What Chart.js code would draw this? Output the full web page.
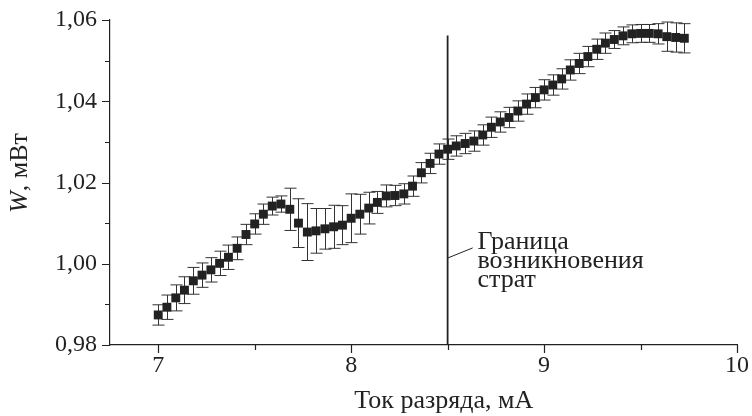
<!DOCTYPE html>
<html lang="ru">
<head>
<meta charset="UTF-8">
<title>W vs discharge current</title>
<script src="https://cdn.jsdelivr.net/npm/chart.js"></script>
<style>
    body { margin: 0; background: #fff; }
    #wrap { width: 752px; height: 416px; }
</style>
</head>
<body>
<div id="wrap"><canvas id="chart" width="752" height="416"></canvas></div>
<script>
// discharge current, mA
const current = [
    7.000, 7.045, 7.091, 7.136, 7.182, 7.227, 7.273, 7.318, 7.364, 7.409,
    7.455, 7.500, 7.545, 7.591, 7.636, 7.682, 7.727, 7.773, 7.818, 7.864,
    7.909, 7.955, 8.000, 8.045, 8.091, 8.136, 8.182, 8.227, 8.273, 8.318,
    8.364, 8.409, 8.455, 8.500, 8.545, 8.591, 8.636, 8.682, 8.727, 8.773,
    8.818, 8.864, 8.909, 8.955, 9.000, 9.045, 9.091, 9.136, 9.182, 9.227,
    9.273, 9.318, 9.364, 9.409, 9.455, 9.500, 9.545, 9.591, 9.636, 9.682,
    9.727
];
// W, mW
const power = [
    0.9874, 0.9893, 0.9916, 0.9935, 0.9958, 0.9972, 0.9985, 1.0001, 1.0016, 1.0038,
    1.0072, 1.0098, 1.0122, 1.0142, 1.0147, 1.0134, 1.0100, 1.0078, 1.0081, 1.0086,
    1.0091, 1.0095, 1.0112, 1.0122, 1.0137, 1.0151, 1.0167, 1.0168, 1.0172, 1.0191,
    1.0224, 1.0247, 1.0270, 1.0282, 1.0290, 1.0296, 1.0302, 1.0317, 1.0336, 1.0349,
    1.0360, 1.0376, 1.0393, 1.0409, 1.0428, 1.0440, 1.0455, 1.0477, 1.0493, 1.0510,
    1.0528, 1.0543, 1.0552, 1.0561, 1.0566, 1.0567, 1.0567, 1.0566, 1.0559, 1.0557,
    1.0555
];
// half-length of error bars, mW
const powerErr = [
    0.0025, 0.0030, 0.0032, 0.0033, 0.0033, 0.0030, 0.0030, 0.0030, 0.0030, 0.0028,
    0.0025, 0.0025, 0.0025, 0.0022, 0.0020, 0.0052, 0.0060, 0.0070, 0.0055, 0.0050,
    0.0053, 0.0048, 0.0060, 0.0049, 0.0039, 0.0027, 0.0027, 0.0025, 0.0025, 0.0025,
    0.0025, 0.0025, 0.0025, 0.0025, 0.0025, 0.0025, 0.0025, 0.0025, 0.0025, 0.0025,
    0.0025, 0.0025, 0.0025, 0.0025, 0.0025, 0.0025, 0.0025, 0.0025, 0.0025, 0.0025,
    0.0025, 0.0025, 0.0022, 0.0022, 0.0022, 0.0022, 0.0022, 0.0025, 0.0036, 0.0036,
    0.0036
];

const xMajor = [7, 8, 9, 10];
const xMinor = [7.5, 8.5, 9.5];
const yMajor = [0.98, 1.00, 1.02, 1.04, 1.06];
const yMinor = [0.99, 1.01, 1.03, 1.05];
const xLabels = ['7', '8', '9', '10'];
const yLabels = ['0,98', '1,00', '1,02', '1,04', '1,06'];

// striation boundary and its label
const boundaryX = [8.5, 8.5];
const boundaryY = [0.98, 1.0562];
const leaderX = [8.5, 8.63];
const leaderY = [1.0014, 1.0039];
const noteLines = ['Граница', 'возникновения', 'страт'];
const noteX = 8.655;
const noteY = [1.0054, 1.0007, 0.9960];

const xTitle = 'Ток разряда, мА';
const xTitleAt = 8.48;

const ink = '#222';
const serif = "'Liberation Serif', 'DejaVu Serif', serif";

const points = current.map((x, i) => ({ x: x, y: power[i] }));

const errorBars = {
    id: 'errorBars',
    beforeDatasetsDraw(chart) {
        const xs = chart.scales.x, ys = chart.scales.y;
        const ctx = chart.ctx;
        ctx.save();
        ctx.strokeStyle = '#333';
        ctx.lineWidth = 1;
        current.forEach((x, i) => {
            const px = Math.round(xs.getPixelForValue(x)) + 0.5;
            const top = ys.getPixelForValue(power[i] + powerErr[i]);
            const bot = ys.getPixelForValue(power[i] - powerErr[i]);
            ctx.beginPath();
            ctx.moveTo(px, top); ctx.lineTo(px, bot);
            ctx.moveTo(px - 6, top); ctx.lineTo(px + 6, top);
            ctx.moveTo(px - 6, bot); ctx.lineTo(px + 6, bot);
            ctx.stroke();
        });
        ctx.restore();
    }
};

// tick marks (long/short), tick labels, axis titles and the note
const axisDecor = {
    id: 'axisDecor',
    afterDraw(chart) {
        const xs = chart.scales.x, ys = chart.scales.y;
        const area = chart.chartArea;
        const ctx = chart.ctx;
        ctx.save();
        ctx.strokeStyle = ink;
        ctx.lineWidth = 1.2;
        ctx.beginPath();
        xMajor.concat(xMinor).forEach(v => {
            const px = Math.round(xs.getPixelForValue(v)) + 0.5;
            const len = xMajor.includes(v) ? 8 : 5;
            ctx.moveTo(px, area.bottom); ctx.lineTo(px, area.bottom + len);
        });
        yMajor.concat(yMinor).forEach(v => {
            const py = Math.round(ys.getPixelForValue(v)) + 0.5;
            const len = yMajor.includes(v) ? 8 : 5;
            ctx.moveTo(area.left, py); ctx.lineTo(area.left - len, py);
        });
        ctx.stroke();

        ctx.fillStyle = ink;
        ctx.textBaseline = 'middle';
        ctx.font = '24px ' + serif;
        ctx.textAlign = 'center';
        xMajor.forEach((v, i) => {
            ctx.fillText(xLabels[i], xs.getPixelForValue(v), area.bottom + 21);
        });
        ctx.textAlign = 'right';
        yMajor.forEach((v, i) => {
            ctx.fillText(yLabels[i], area.left - 13, ys.getPixelForValue(v));
        });

        // note next to the boundary line
        ctx.font = '26px ' + serif;
        ctx.textAlign = 'left';
        noteLines.forEach((t, i) => {
            ctx.fillText(t, xs.getPixelForValue(noteX), ys.getPixelForValue(noteY[i]));
        });

        // x axis title
        ctx.textAlign = 'center';
        ctx.fillText(xTitle, xs.getPixelForValue(xTitleAt), 401);

        // y axis title: italic W, upright units
        ctx.textAlign = 'left';
        ctx.translate(20, 173);
        ctx.rotate(-Math.PI / 2);
        ctx.font = 'italic 26px ' + serif;
        const w1 = ctx.measureText('W').width;
        ctx.font = '26px ' + serif;
        const w2 = ctx.measureText(', мВт').width;
        const x0 = -(w1 + w2) / 2;
        ctx.font = 'italic 26px ' + serif;
        ctx.fillText('W', x0, 0);
        ctx.font = '26px ' + serif;
        ctx.fillText(', мВт', x0 + w1, 0);
        ctx.restore();
    }
};

new Chart(document.getElementById('chart'), {
    type: 'scatter',
    data: {
        datasets: [
            {
                data: points,
                pointStyle: 'rect',
                pointRadius: 6.3,
                pointHoverRadius: 6.3,
                backgroundColor: ink,
                borderWidth: 0,
                order: 1
            },
            {
                type: 'line',
                data: boundaryX.map((x, i) => ({ x: x, y: boundaryY[i] })),
                borderColor: ink,
                borderWidth: 1.8,
                pointRadius: 0,
                order: 2
            },
            {
                type: 'line',
                data: leaderX.map((x, i) => ({ x: x, y: leaderY[i] })),
                borderColor: ink,
                borderWidth: 1,
                pointRadius: 0,
                order: 2
            }
        ]
    },
    options: {
        responsive: false,
        animation: false,
        devicePixelRatio: 1,
        layout: { padding: { top: 20, right: 15, left: 0, bottom: 0 } },
        plugins: {
            legend: { display: false },
            tooltip: { enabled: false }
        },
        scales: {
            x: {
                type: 'linear',
                min: 6.75,
                max: 10,
                afterBuildTicks: s => { s.ticks = xMajor.map(v => ({ value: v })); },
                afterFit: s => { s.height = 71; },
                grid: { display: false, drawTicks: false },
                border: { display: true, color: ink, width: 1.2 },
                ticks: { display: false }
            },
            y: {
                type: 'linear',
                min: 0.98,
                max: 1.06,
                afterBuildTicks: s => { s.ticks = yMajor.map(v => ({ value: v })); },
                afterFit: s => { s.width = 110; },
                grid: { display: false, drawTicks: false },
                border: { display: true, color: ink, width: 1.2 },
                ticks: { display: false }
            }
        }
    },
    plugins: [errorBars, axisDecor]
});
</script>
</body>
</html>
